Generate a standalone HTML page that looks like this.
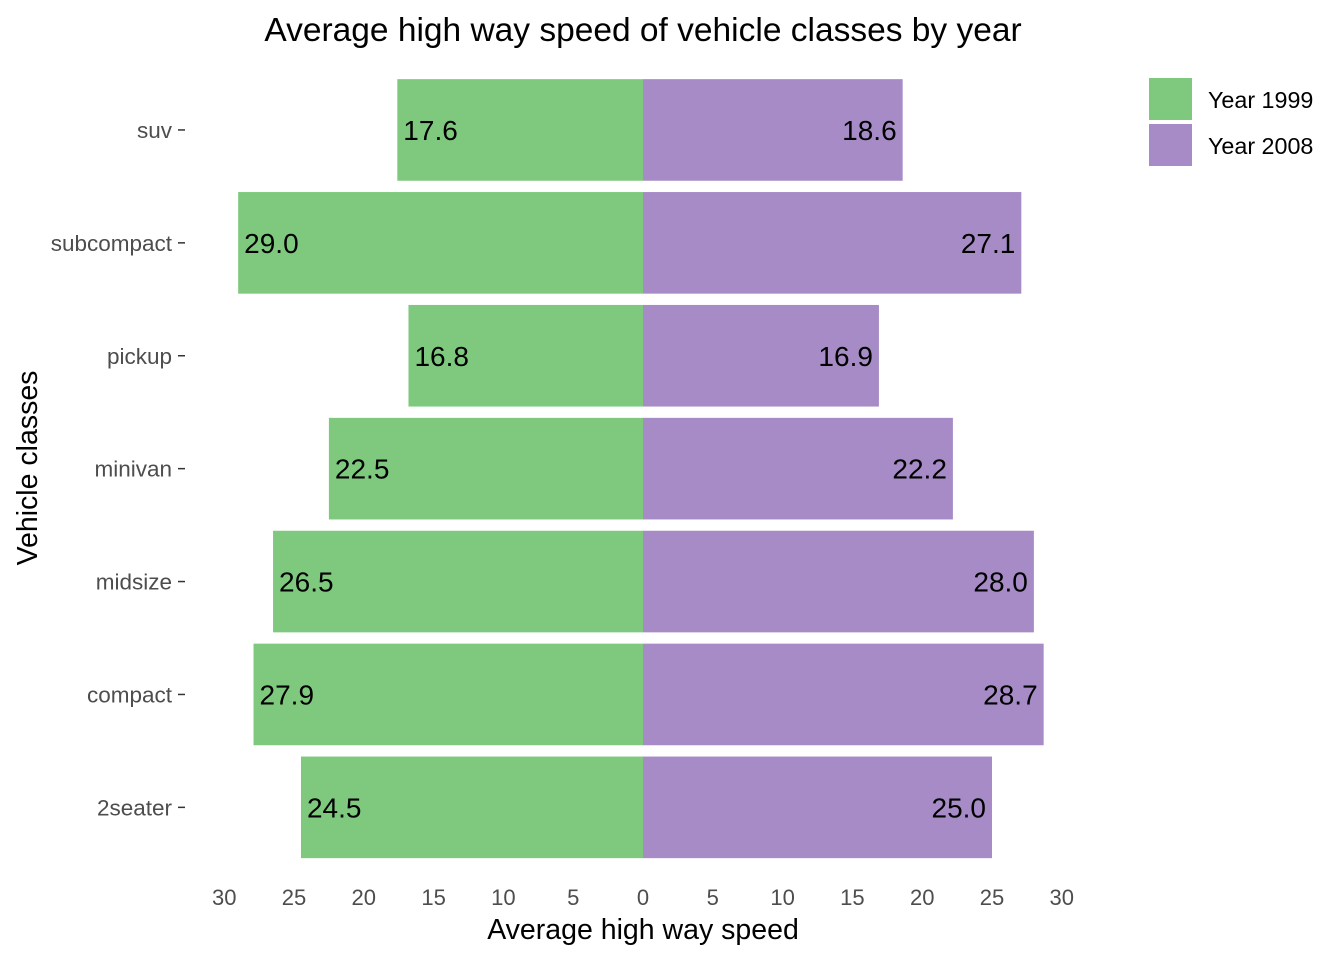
<!DOCTYPE html>
<html><head><meta charset="utf-8"><style>
body{margin:0;background:#fff;}
svg text{font-family:"Liberation Sans",sans-serif;}
</style></head><body>
<svg id="chart" width="1344" height="960">
<text x="643" y="41" font-size="33.5" text-anchor="middle" fill="#000">Average high way speed of vehicle classes by year</text>
<text x="643" y="939" font-size="28.5" text-anchor="middle" fill="#000">Average high way speed</text>
<text transform="translate(37,468) rotate(-90)" font-size="28.5" text-anchor="middle" fill="#000">Vehicle classes</text>
<g id="bars"></g><g id="yaxis"></g><g id="xaxis"></g>
<g>
<rect x="1149" y="78" width="43" height="42" fill="#7fc97f"/>
<text x="1208" y="108" font-size="23.3" fill="#000">Year 1999</text>
<rect x="1149" y="124" width="43" height="42" fill="#a68bc6"/>
<text x="1208" y="154" font-size="23.3" fill="#000">Year 2008</text>
</g>
</svg>
<script>
const categories=["suv","subcompact","pickup","minivan","midsize","compact","2seater"];
const values1999=[17.6,29.0,16.8,22.5,26.5,27.9,24.5];
const values2008=[18.6,27.1,16.9,22.2,28.0,28.7,25.0];
const tickValues=[-30,-25,-20,-15,-10,-5,0,5,10,15,20,25,30];
const NS="http://www.w3.org/2000/svg";
const x0=643,k=13.96;
const xs=v=>x0+v*k;
const bandTop=73.5,step=112.9,bh=101.6;
const yc=i=>bandTop+step*i+step/2;
function mk(t,a,p){const e=document.createElementNS(NS,t);for(const n in a)e.setAttribute(n,a[n]);document.getElementById(p).appendChild(e);return e;}
categories.forEach((c,i)=>{
 const y=yc(i)-bh/2;
 let r=mk('rect',{x:xs(-values1999[i]),y:y,width:xs(0)-xs(-values1999[i]),height:bh,fill:'#7fc97f'},'bars');
 
 
 r=mk('rect',{x:xs(0),y:y,width:xs(values2008[i])-xs(0),height:bh,fill:'#a68bc6'},'bars');
 
 
 let t=mk('text',{x:xs(-values1999[i])+6,y:yc(i)+10,'font-size':28,fill:'#000'},'bars');
 t.textContent=values1999[i].toFixed(1);
 
 
 t=mk('text',{x:xs(values2008[i])-6,y:yc(i)+10,'font-size':28,fill:'#000','text-anchor':'end'},'bars');
 t.textContent=values2008[i].toFixed(1);
 
 
 const tk=mk('line',{x1:178,x2:185,y1:yc(i),y2:yc(i),stroke:'#333','stroke-width':1.5},'yaxis');
 
 
 const l=mk('text',{x:172,y:yc(i)+8,'font-size':22.5,fill:'#4d4d4d','text-anchor':'end'},'yaxis');
 l.textContent=c;
 
 
});
tickValues.forEach(v=>{
 const l=mk('text',{x:xs(v),y:905,'font-size':22,fill:'#4d4d4d','text-anchor':'middle'},'xaxis');
 l.textContent=Math.abs(v);
 
 
});
</script>
</body></html>
